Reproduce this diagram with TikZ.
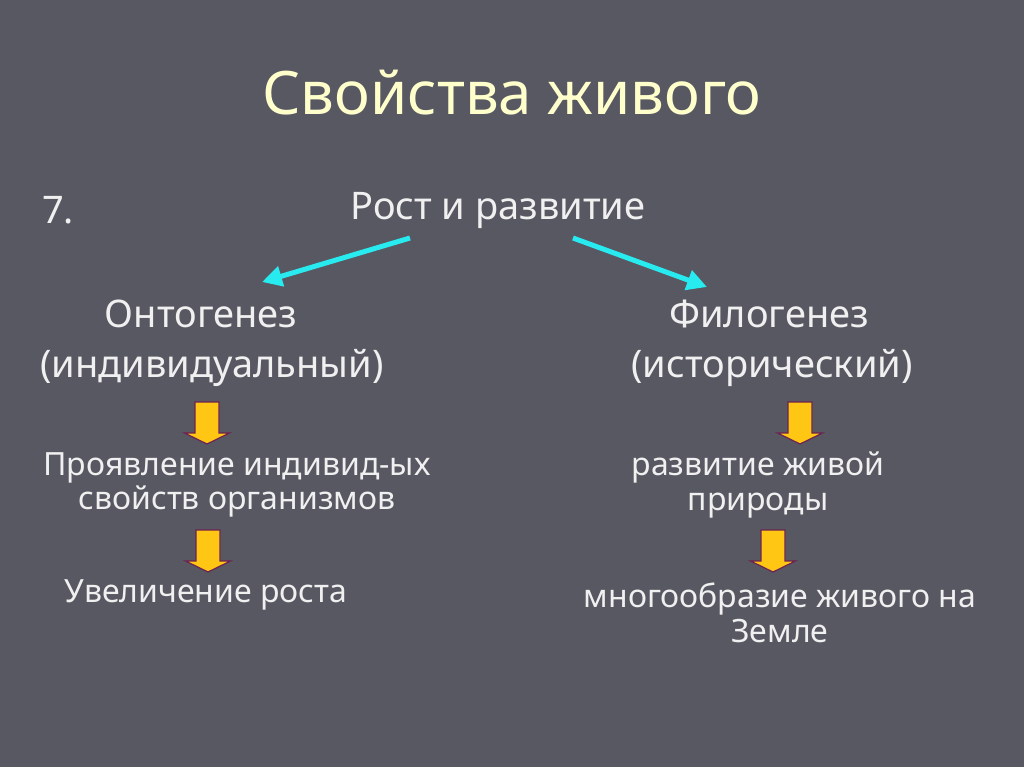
\documentclass[tikz,border=0pt]{standalone}
\usepackage{fontspec}
\setmainfont{Noto Sans}
\usetikzlibrary{arrows.meta}
\definecolor{bg}{RGB}{88,88,99}
\definecolor{titlecol}{RGB}{255,255,204}
\definecolor{txt}{RGB}{240,240,240}
\definecolor{cy}{RGB}{40,235,240}
\definecolor{ya}{RGB}{255,198,20}
\definecolor{yb}{RGB}{110,35,80}
\tikzset{
  title/.style={text=titlecol, font=\fontsize{60}{66}\selectfont, inner sep=0pt},
  big/.style={text=txt, font=\fontsize{38}{42}\selectfont, inner sep=0pt},
  small/.style={text=txt, font=\fontsize{32}{34.5}\selectfont, inner sep=0pt, align=center},
  cyarrow/.style={draw=cy, line width=5pt, -{Triangle[length=20pt,width=20pt]}},
  blockarrow/.style={fill=ya, draw=yb, line width=1.2pt, line join=miter}
}
\newcommand\yarrow[2]{%
  \path[blockarrow] (#1-12,#2) -- (#1+12,#2) -- (#1+12,#2+31) -- (#1+22.5,#2+31)
    -- (#1,#2+42) -- (#1-22.5,#2+31) -- (#1-12,#2+31) -- cycle;}
\begin{document}
\begin{tikzpicture}[x=1pt,y=-1pt]
\fill[bg] (0,0) rectangle (1024,767);
\useasboundingbox (0,0) rectangle (1024,767);

\node[title] (t) at (512,93) {Свойства живого};
\node[big, anchor=west] (n7) at (42,210) {7.};
\node[big] (rost) at (498,210) {Рост и развитие};
\node[big] (onto) at (201,314) {Онтогенез};
\node[big] (ind) at (212,368) {(индивидуальный)};
\node[big] (filo) at (769,314) {Филогенез};
\node[big] (ist) at (772,368) {(исторический)};

\node[small] (pr) at (237,485) {Проявление индивид-ых\\свойств организмов};
\node[small] (uv) at (206,595) {Увеличение роста};
\node[small] (rz) at (758,485) {развитие живой\\природы};
\node[small] (mn) at (780,613) {многообразие живого на\\Земле};

\coordinate (a1s) at (410,238);
\coordinate (a1e) at (262,282);
\coordinate (a2s) at (573,238);
\coordinate (a2e) at (707,287);
\draw[cyarrow] (a1s) -- (a1e);
\draw[cyarrow] (a2s) -- (a2e);

\yarrow{207}{402}
\yarrow{800}{402}
\yarrow{208}{530}
\yarrow{773}{530}
\end{tikzpicture}
\end{document}
